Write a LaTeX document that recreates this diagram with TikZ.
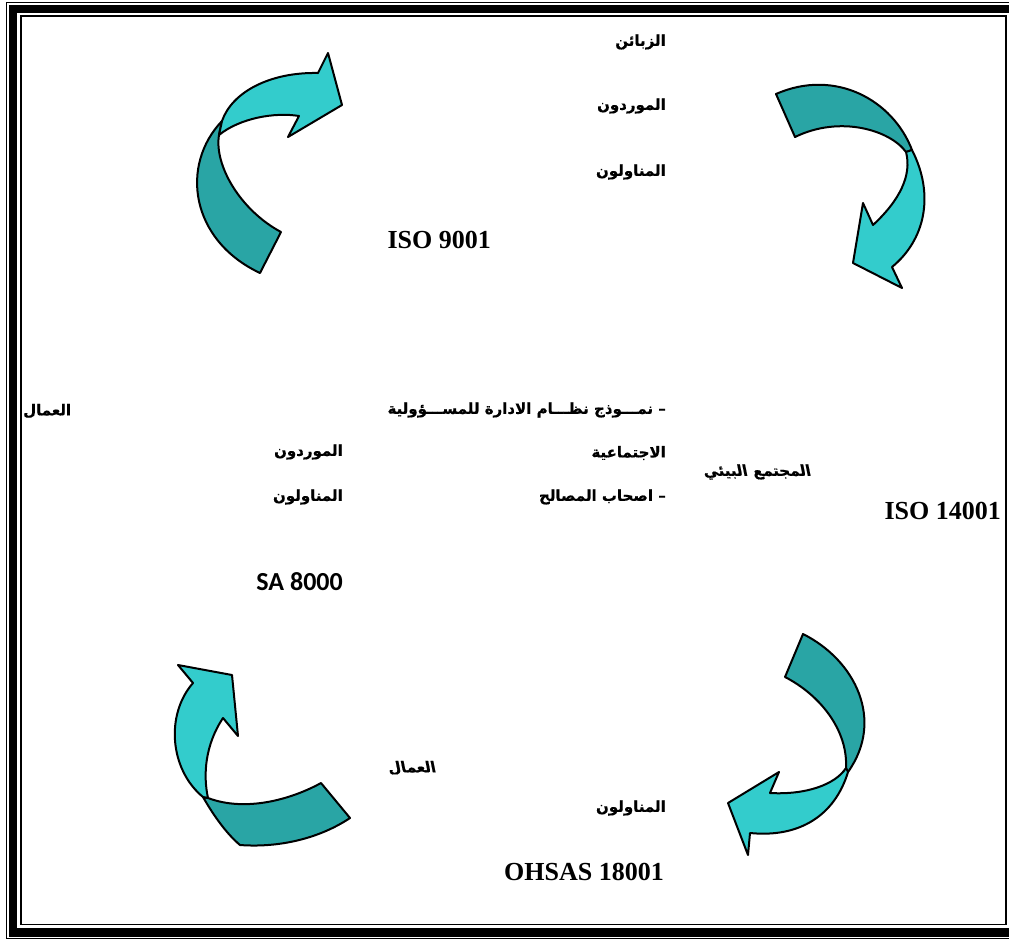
\documentclass[tikz,border=0pt]{standalone}
\usepackage{fontspec}
\setmainfont{Liberation Serif}
\newfontfamily\calibri{Carlito}
\newfontfamily\arabicbf[Script=Arabic,FakeBold=0.6]{DejaVu Sans Bold}
\newfontfamily\arabicbfit[Script=Arabic,FakeBold=0.6,FakeSlant=-0.2]{DejaVu Sans Bold}
\TeXXeTstate=1
\definecolor{lightteal}{RGB}{51,204,204}
\definecolor{darkteal}{RGB}{41,165,165}
\tikzset{
  ar/.style={font=\arabicbf\fontsize{15}{17}\selectfont, inner sep=0pt, anchor=east},
  arit/.style={font=\arabicbfit\fontsize{15}{17}\selectfont, inner sep=0pt, anchor=east},
  lat/.style={font=\bfseries\fontsize{26}{28}\selectfont, inner sep=0pt, anchor=east},
  front/.style={fill=lightteal, draw=black, line width=2pt, line join=round},
  back/.style={fill=darkteal, draw=black, line width=2pt, line join=round},
}
\begin{document}
\begin{tikzpicture}[x=1pt,y=-1pt]
\useasboundingbox (0,0) rectangle (1009,940);
\fill[white] (0,0) rectangle (1009,940);
% page border: thin-thick-thin
\draw[line width=1.3pt] (6.5,2.5) rectangle (1040,938.5);
\draw[line width=8.5pt] (13,9.2) rectangle (1030,932.5);
\draw[line width=1.8pt] (21,16) rectangle (1006,924.5);

% arrow 1 (top left)
\path[back] (260,273) .. controls (190,240) and (180,165) .. (222,121)
  -- (219,135) .. controls (214,165) and (240,210) .. (281,232) -- cycle;
\path[front] (222,121) .. controls (232,92) and (270,72) .. (318,73)
  -- (328,53) -- (342,105) -- (288,137) -- (299,116)
  .. controls (275,112) and (240,118) .. (219,135) -- cycle;

% arrow 2 (top right)
\path[back] (776,94) .. controls (835,68) and (893,100) .. (912,150)
  -- (906,152) .. controls (890,130) and (840,115) .. (795,137) -- cycle;
\path[front] (912,150) .. controls (935,195) and (925,240) .. (892,267)
  -- (902,288) -- (853,263) -- (863,203) -- (873,225)
  .. controls (900,200) and (912,175) .. (906,152) -- cycle;

% arrow 3 (bottom right)
\path[back] (803,634) .. controls (855,660) and (885,720) .. (848,772)
  -- (846,768) .. controls (848,730) and (820,695) .. (785,677) -- cycle;
\path[front] (848,772) .. controls (835,815) and (800,838) .. (750,833)
  -- (748,855) -- (728,803) -- (779,772) -- (770,793)
  .. controls (805,795) and (835,785) .. (846,768) -- cycle;

% arrow 4 (bottom left)
\path[back] (203,797) .. controls (215,818) and (228,835) .. (240,845)
  .. controls (280,848) and (320,838) .. (350,818) -- (321,783)
  .. controls (290,800) and (245,812) .. (208,798) -- cycle;
\path[front] (203,797) .. controls (170,770) and (165,715) .. (193,683)
  -- (178,665) -- (232,675) -- (238,736) -- (223,718)
  .. controls (205,745) and (203,775) .. (208,798) -- cycle;

% texts
\node[ar] (t1) at (666,42) {\beginR الزبائن\endR};
\node[ar] (t2) at (666,106) {\beginR الموردون\endR};
\node[ar] (t3) at (666,172) {\beginR المناولون\endR};
\node[lat] (iso9) at (491,240) {ISO 9001};

\node[ar] (m1) at (666,410) {\beginR – نمـــوذج نظـــام الادارة للمســـؤولية\endR};
\node[ar] (m2) at (666,453) {\beginR الاجتماعية\endR};
\node[ar] (m3) at (666,497) {\beginR – اصحاب المصالح\endR};

\node[ar, anchor=west] (l1) at (23,411) {\beginR العمال\endR};
\node[ar] (l2) at (343,452) {\beginR الموردون\endR};
\node[ar] (l3) at (343,497) {\beginR المناولون\endR};
\node[lat, font=\calibri\bfseries\fontsize{26}{28}\selectfont] (sa) at (343,582) {SA 8000};

\node[arit] (env) at (812,472) {\beginR المجتمع البيئي\endR};
\node[lat] (iso14) at (1001,511) {ISO 14001};

\node[arit] (b1) at (437,768) {\beginR العمال\endR};
\node[ar] (b2) at (666,808) {\beginR المناولون\endR};
\node[lat] (ohsas) at (664,872) {OHSAS 18001};
\end{tikzpicture}
\end{document}
